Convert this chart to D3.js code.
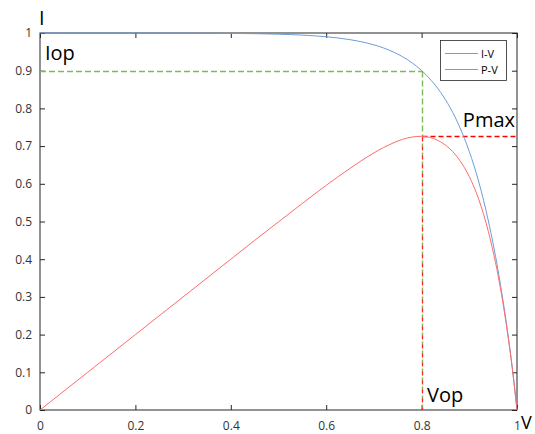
<!DOCTYPE html>
<html><head><meta charset="utf-8">
<script src="https://cdn.jsdelivr.net/npm/d3@7"></script>
<style>body{margin:0;background:#fff}svg{display:block}text{font-family:"Open Sans","DejaVu Sans",sans-serif}</style>
</head><body>
<svg id="c" width="535" height="434"></svg>
<script>
const voltage = [0,0.1,0.2,0.3,0.4,0.45,0.5,0.55,0.6,0.65,0.7,0.72,0.74,0.76,0.78,0.8,0.82,0.84,0.86,0.88,0.9,0.92,0.94,0.96,0.97,0.98,0.99,1.0];
const current = [1,1,0.9999,0.9997,0.999,0.9982,0.9968,0.9944,0.99,0.9823,0.9685,0.9604,0.9501,0.9372,0.9209,0.9005,0.8747,0.8423,0.8016,0.7502,0.6856,0.6043,0.5014,0.3725,0.2958,0.2098,0.1134,0];
const power   = [0,0.1,0.2,0.3,0.4,0.45,0.499,0.548,0.596,0.641,0.682,0.696,0.708,0.718,0.724,0.726,0.722,0.711,0.692,0.662,0.619,0.558,0.473,0.359,0.288,0.206,0.112,0];
const xTicks = [0,0.2,0.4,0.6,0.8,1];
const yTicks = [0,0.1,0.2,0.3,0.4,0.5,0.6,0.7,0.8,0.9,1];
const seriesNames = ["I-V","P-V"];
const Vop = 0.8, Iop = 0.9, Pmax = 0.726;

const svg = d3.select("#c");
const L=40,R=517,T=33,B=410;
const x = d3.scaleLinear().domain([0,1]).range([L,R]);
const y = d3.scaleLinear().domain([0,1]).range([B,T]);
const axCol="#262626";
const px = v=>Math.round(v)+0.5;

function styleAxis(g){
  g.select(".domain").remove();
  g.selectAll(".tick line").attr("stroke",axCol);
  g.selectAll(".tick text").attr("fill","#333").style("font-size","12px").style("font-family","'Open Sans','DejaVu Sans',sans-serif");
}
const fmt = d=> d===0?"0":d===1?"1":d3.format(".1f")(d);
svg.append("g").attr("transform",`translate(0,${B})`)
  .call(d3.axisBottom(x).tickValues(xTicks).tickFormat(fmt).tickSizeInner(-5).tickSizeOuter(0).tickPadding(11))
  .call(styleAxis);
svg.append("g").attr("transform",`translate(${L},0)`)
  .call(d3.axisLeft(y).tickValues(yTicks).tickFormat(fmt).tickSizeInner(-5).tickSizeOuter(0).tickPadding(8))
  .call(styleAxis);
svg.append("g").attr("transform",`translate(0,${T})`)
  .call(d3.axisTop(x).tickValues(xTicks).tickFormat("").tickSizeInner(-5).tickSizeOuter(0))
  .call(styleAxis);
svg.append("g").attr("transform",`translate(${R},0)`)
  .call(d3.axisRight(y).tickValues(yTicks).tickFormat("").tickSizeInner(-5).tickSizeOuter(0))
  .call(styleAxis);
svg.append("rect").attr("x",L).attr("y",T).attr("width",R-L).attr("height",B-T)
  .attr("fill","none").attr("stroke",axCol).attr("stroke-width",1);

// dashed guides
const green="#7dbb5a";
svg.append("line").attr("x1",x(0)).attr("x2",px(x(Vop))).attr("y1",px(y(Iop))).attr("y2",px(y(Iop)))
  .attr("stroke",green).attr("stroke-width",1.4).attr("stroke-dasharray","6,3");
svg.append("line").attr("x1",px(x(Vop))).attr("x2",px(x(Vop))).attr("y1",px(y(Iop))).attr("y2",y(0))
  .attr("stroke",green).attr("stroke-width",1.4).attr("stroke-dasharray","6,3");
svg.append("line").attr("x1",px(x(Vop))).attr("x2",x(1)).attr("y1",px(y(Pmax))).attr("y2",px(y(Pmax)))
  .attr("stroke","#ff0000").attr("stroke-width",1.3).attr("stroke-dasharray","5,3");
svg.append("line").attr("x1",px(x(Vop))).attr("x2",px(x(Vop))).attr("y1",px(y(Pmax))).attr("y2",y(0))
  .attr("stroke","#ff2020").attr("stroke-width",1.1).attr("stroke-dasharray","4,5").attr("stroke-dashoffset",-1);

const line = d3.line().curve(d3.curveMonotoneX);
const colors=["#6f9dd6","#ff6b6b"];
svg.append("path").attr("d",line(voltage.map((v,i)=>[x(v),y(current[i])])))
  .attr("fill","none").attr("stroke",colors[0]).attr("stroke-width",1);
svg.append("path").attr("d",line(voltage.map((v,i)=>[x(v),y(power[i])])))
  .attr("fill","none").attr("stroke",colors[1]).attr("stroke-width",1);

// legend
const lg = svg.append("g");
lg.append("rect").attr("x",440.5).attr("y",40.5).attr("width",66).attr("height",40)
  .attr("fill","#fff").attr("stroke","#262626").attr("stroke-width",0.8);
seriesNames.forEach((n,i)=>{
  const yy=53.5+i*16;
  lg.append("line").attr("x1",445).attr("x2",478).attr("y1",yy).attr("y2",yy).attr("stroke",colors[i]);
  lg.append("text").attr("x",481).attr("y",yy+4).text(n).attr("fill","#000").style("font-size","11px");
});

// annotations
const ann=(t,xx,yy,anchor,fs)=>svg.append("text").attr("x",xx).attr("y",yy).text(t)
  .attr("text-anchor",anchor||"start").attr("fill","#000").style("font-size",(fs||20)+"px");
ann("I",39,25);
ann("Iop",45,60);
ann("Pmax",515,127,"end");
ann("Vop",427,402);
ann("V",521,429,"start",18);
</script>
</body></html>
